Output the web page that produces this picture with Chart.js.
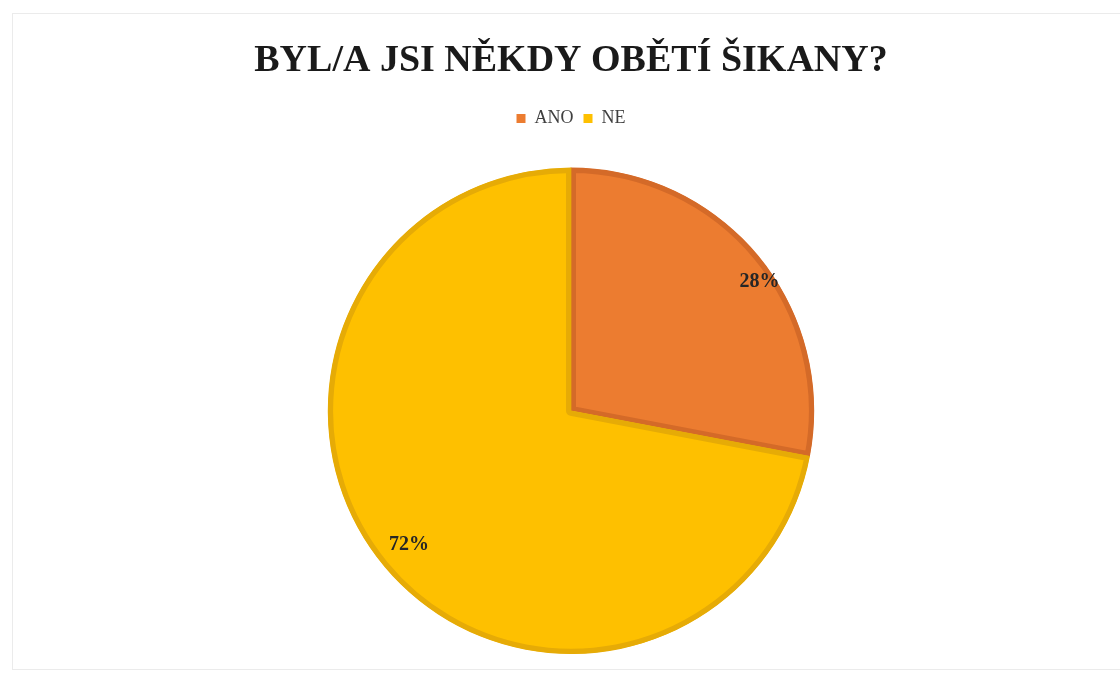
<!DOCTYPE html>
<html>
<head>
<meta charset="utf-8">
<script src="https://cdn.jsdelivr.net/npm/chart.js@4.4.1/dist/chart.umd.min.js"></script>
<style>
    html, body { margin: 0; padding: 0; background: #fff; }
    #wrap { position: relative; width: 1120px; height: 680px; }
    #frame { position: absolute; left: 12px; top: 13px; width: 1120px; height: 657px; border: 1px solid #ebebeb; box-sizing: border-box; }
    canvas { position: absolute; left: 0; top: 0; }
</style>
</head>
<body>
<div id="wrap">
    <div id="frame"></div>
    <canvas id="pieChart" width="1120" height="680"></canvas>
</div>
<script>
const categories = ['ANO', 'NE'];
const shares = [28, 72];
const fillColors = ['#EC7C30', '#FEC000'];
const edgeColors = ['#D46A28', '#E6AB06'];

const serifFont = '"Times New Roman", "Liberation Serif", Tinos, serif';

// push the pie down a bit below the legend
const legendGap = {
    id: 'legendGap',
    beforeInit(chart) {
        const fit = chart.legend.fit;
        chart.legend.fit = function() {
            fit.bind(chart.legend)();
            this.height += 30;
        };
    }
};

// percentage labels inside the slices
const sliceLabels = {
    id: 'sliceLabels',
    afterDatasetsDraw(chart, args, opts) {
        const ctx = chart.ctx;
        const meta = chart.getDatasetMeta(0);
        ctx.save();
        ctx.font = 'bold 20px ' + serifFont;
        ctx.fillStyle = '#262626';
        ctx.textAlign = 'center';
        ctx.textBaseline = 'middle';
        meta.data.forEach((arc, i) => {
            const p = arc.getProps(['x', 'y', 'startAngle', 'endAngle', 'outerRadius'], true);
            const place = opts.place[i];
            const a = (p.startAngle + p.endAngle) / 2 + place.da;
            const r = p.outerRadius * place.r;
            ctx.fillText(shares[i] + '%', p.x + Math.cos(a) * r, p.y + Math.sin(a) * r);
        });
        ctx.restore();
    }
};

new Chart(document.getElementById('pieChart'), {
    type: 'pie',
    data: {
        labels: categories,
        datasets: [{
            data: shares,
            backgroundColor: fillColors,
            borderColor: edgeColors,
            borderWidth: 5,
            borderAlign: 'inner'
        }]
    },
    options: {
        responsive: false,
        animation: false,
        events: [],
        layout: { padding: { left: 22, right: 0, top: 0, bottom: 26 } },
        plugins: {
            title: {
                display: true,
                text: 'BYL/A JSI NĚKDY OBĚTÍ ŠIKANY?',
                color: '#1a1a1a',
                font: { family: serifFont, size: 38, weight: 'bold', lineHeight: 1.2 },
                padding: { top: 38, bottom: 16 }
            },
            legend: {
                position: 'top',
                labels: {
                    color: '#404040',
                    font: { family: serifFont, size: 18 },
                    boxWidth: 9,
                    boxHeight: 9,
                    padding: 10,
                    generateLabels(chart) {
                        return Chart.overrides.pie.plugins.legend.labels.generateLabels(chart).map(item => {
                            item.lineWidth = 0;
                            return item;
                        });
                    }
                }
            },
            tooltip: { enabled: false },
            sliceLabels: {
                place: [{ r: 0.94, da: 0.09 }, { r: 0.865, da: 0 }]
            }
        }
    },
    plugins: [legendGap, sliceLabels]
});
</script>
</body>
</html>
